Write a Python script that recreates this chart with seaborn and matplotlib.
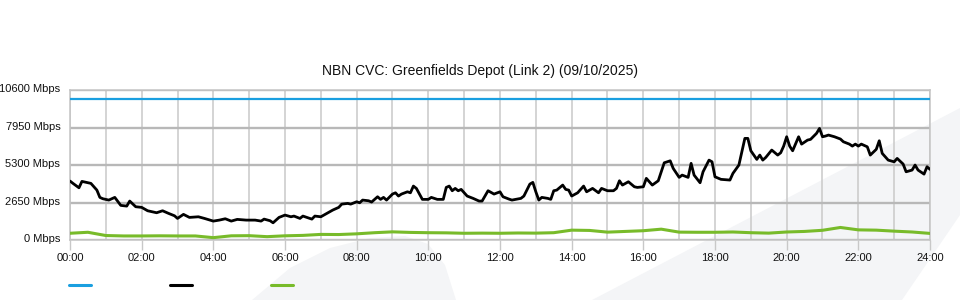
import matplotlib
matplotlib.use("Agg")
import matplotlib.pyplot as plt
import matplotlib.transforms as mtransforms
import seaborn as sns
import pandas as pd
from matplotlib.patches import Polygon
from matplotlib.lines import Line2D
from matplotlib.ticker import MultipleLocator

# ---------------- data ----------------
title = "NBN CVC: Greenfields Depot (Link 2) (09/10/2025)"
y_ticks = [0, 2650, 5300, 7950, 10600]
y_labels = [f"{v} Mbps" for v in y_ticks]
x_tick_hours = list(range(0, 25, 2))
x_labels = [f"{h:02d}:00" for h in x_tick_hours]

cap_times = ["00:00", "24:00"]
cap_mbps = [10000, 10000]

used_times = [
    "00:00", "00:05", "00:15", "00:20", "00:30", "00:35", "00:45", "00:50", "00:55",
    "01:05", "01:15", "01:25", "01:35", "01:40", "01:50", "02:00", "02:10", "02:15",
    "02:25", "02:35", "02:45", "02:55", "03:00", "03:10", "03:20", "03:35", "03:45",
    "04:00", "04:10", "04:20", "04:30", "04:40", "04:55", "05:10", "05:20", "05:25",
    "05:35", "05:40", "05:50", "06:00", "06:10", "06:15", "06:25", "06:30", "06:45",
    "06:50", "07:00", "07:10", "07:20", "07:30", "07:35", "07:45", "07:50", "08:00",
    "08:05", "08:10", "08:20", "08:25", "08:35", "08:40", "08:45", "08:50", "09:00",
    "09:05", "09:10", "09:15", "09:25", "09:30", "09:35", "09:40", "09:50", "10:00",
    "10:05", "10:15", "10:25", "10:30", "10:35", "10:40", "10:45", "10:50", "10:55",
    "11:05", "11:15", "11:25", "11:30", "11:40", "11:50", "12:00", "12:05", "12:15",
    "12:20", "12:35", "12:40", "12:50", "12:55", "13:00", "13:05", "13:10", "13:20",
    "13:25", "13:30", "13:35", "13:45", "13:50", "13:55", "14:00", "14:10", "14:20",
    "14:25", "14:35", "14:45", "14:50", "15:00", "15:10", "15:15", "15:20", "15:25",
    "15:35", "15:45", "15:50", "16:00", "16:05", "16:15", "16:25", "16:30", "16:35",
    "16:45", "16:50", "17:00", "17:05", "17:15", "17:20", "17:25", "17:35", "17:40",
    "17:50", "17:55", "18:00", "18:10", "18:25", "18:30", "18:40", "18:45", "18:50",
    "18:55", "19:00", "19:05", "19:10", "19:15", "19:20", "19:25", "19:35", "19:45",
    "19:50", "19:55", "20:00", "20:05", "20:10", "20:20", "20:25", "20:35", "20:40",
    "20:50", "20:55", "21:00", "21:05", "21:10", "21:20", "21:30", "21:35", "21:45",
    "21:50", "21:55", "22:00", "22:05", "22:15", "22:20", "22:30", "22:35", "22:40",
    "22:50", "23:00", "23:05", "23:15", "23:20", "23:30", "23:35", "23:40", "23:50",
    "23:55", "24:00",
]
used_mbps = [
    4180, 4015, 3705, 4155, 4060, 4015, 3540, 3025, 2930,
    2835, 3025, 2460, 2410, 2765, 2365, 2320, 2080, 2035,
    1940, 2080, 1895, 1725, 1540, 1825, 1610, 1655, 1540,
    1350, 1420, 1515, 1350, 1470, 1420, 1420, 1350, 1490,
    1375, 1230, 1610, 1775, 1655, 1705, 1540, 1705, 1490,
    1705, 1655, 1895, 2130, 2320, 2550, 2600, 2550, 2715,
    2645, 2835, 2785, 2695, 3070, 2885, 3025, 2835, 3260,
    3350, 3120, 3260, 3420, 3350, 3825, 3660, 2885, 2885,
    3025, 2885, 2885, 3730, 3825, 3495, 3660, 3495, 3590,
    3120, 2955, 2765, 2765, 3495, 3260, 3420, 3070, 2905,
    2835, 2955, 3120, 3965, 4085, 3420, 2835, 3025, 2955,
    2885, 3495, 3540, 3895, 3590, 3540, 3120, 3350, 3825,
    3420, 3660, 3350, 3660, 3495, 3495, 3660, 4200, 3895,
    4130, 3775, 3730, 3775, 4370, 3895, 4200, 4835, 5470,
    5610, 5075, 4440, 4600, 4440, 5430, 4600, 4060, 4835,
    5660, 5540, 4480, 4300, 4250, 4720, 5310, 6250, 7195,
    7195, 6320, 6015, 5710, 6015, 5660, 5850, 6370, 6015,
    6180, 6650, 7310, 6650, 6320, 7310, 6790, 7075, 7125,
    7550, 7900, 7310, 7360, 7430, 7310, 7150, 6955, 6790,
    6650, 6790, 6650, 6790, 6600, 6015, 6420, 7025, 6135,
    5660, 5540, 5780, 5380, 4835, 4955, 5310, 4955, 4670,
    5190, 5005,
]

green_times = [
    "00:00", "00:30", "01:00", "01:30", "02:00", "02:30", "03:00", "03:30",
    "04:00", "04:30", "05:00", "05:30", "06:00", "06:30", "07:00", "07:30",
    "08:00", "08:30", "09:00", "09:30", "10:00", "10:30", "11:00", "11:30",
    "12:00", "12:30", "13:00", "13:30", "14:00", "14:30", "15:00", "15:30",
    "16:00", "16:30", "17:00", "17:30", "18:00", "18:30", "19:00", "19:30",
    "20:00", "20:30", "21:00", "21:30", "22:00", "22:30", "23:00", "23:30",
    "24:00",
]
green_mbps = [
    490, 560, 330, 300, 300, 310, 300, 300,
    180, 310, 320, 250, 310, 340, 410, 400,
    450, 530, 590, 550, 530, 520, 490, 500,
    490, 510, 500, 530, 710, 690, 570, 620,
    670, 780, 570, 560, 560, 580, 530, 500,
    580, 620, 700, 900, 730, 710, 640, 580,
    480,
]

colors = {"cap": "#1a9fe0", "used": "#000000", "green": "#78bb2a"}


def to_hours(t):
    h, m = t.split(":")
    return int(h) + int(m) / 60.0


df_cap = pd.DataFrame({"hour": [to_hours(t) for t in cap_times], "mbps": cap_mbps})
df_used = pd.DataFrame({"hour": [to_hours(t) for t in used_times], "mbps": used_mbps})
df_green = pd.DataFrame({"hour": [to_hours(t) for t in green_times], "mbps": green_mbps})

# ---------------- figure ----------------
sns.set_theme(style="white")
plt.rcParams["font.family"] = ["Liberation Sans", "DejaVu Sans"]

W, H = 960, 300
fig = plt.figure(figsize=(W / 100, H / 100), dpi=100)


def fpt(x, y):
    return (x / W, 1 - y / H)


# background watermark shapes
wm = "#f4f5f7"
leaf = [(252, 300), (290, 268), (330, 248), (370, 238), (405, 236), (428, 244),
        (445, 265), (456, 300)]
band = [(592, 300), (960, 108), (960, 215), (902, 300)]
for pts in (leaf, band):
    fig.add_artist(Polygon([fpt(*p) for p in pts], closed=True, facecolor=wm,
                           edgecolor="none", zorder=0, transform=fig.transFigure))

ax = fig.add_axes([70 / W, 1 - 240.2 / H, 860 / W, 150 / H])
ax.patch.set_alpha(0)

sns.lineplot(data=df_cap, x="hour", y="mbps", ax=ax, color=colors["cap"], lw=1.6, zorder=3)
sns.lineplot(data=df_green, x="hour", y="mbps", ax=ax, color=colors["green"], lw=2.2, zorder=3)
sns.lineplot(data=df_used, x="hour", y="mbps", ax=ax, color=colors["used"], lw=2.0, zorder=4)

ax.set_xlim(0, 24)
ax.set_ylim(0, 10600)
ax.set_xlabel("")
ax.set_ylabel("")

ax.set_xticks(x_tick_hours)
ax.set_xticklabels(x_labels, fontsize=8, color="#111111")
ax.xaxis.set_minor_locator(MultipleLocator(1))
ax.set_yticks(y_ticks)
ax.set_yticklabels(y_labels, fontsize=8, color="#111111")

ax.tick_params(axis="x", which="major", bottom=True, length=7, width=1, color="#c8c8c8", pad=2)
ax.tick_params(axis="x", which="minor", bottom=False, length=0)
ax.tick_params(axis="y", which="both", left=False, length=0, pad=7)

# y labels sit ~2px above their grid lines in the reference
shift = mtransforms.ScaledTranslation(0, 2 / 100, fig.dpi_scale_trans)
for lab in ax.get_yticklabels():
    lab.set_transform(lab.get_transform() + shift)

ax.grid(False)
ax.grid(True, axis="x", which="both", color="#c9c9c9", lw=1.1, zorder=1)
ax.grid(True, axis="y", which="major", color="#b8b8b8", lw=1.7, zorder=1)

for s in ax.spines.values():
    s.set_color("#c4c4c4")
    s.set_linewidth(1.1)

fig.text(0.5, 1 - 71 / H, title, ha="center", va="center", fontsize=10, color="#111111")

# legend swatches (no labels)
for (x0, x1), c in zip([(69, 91), (170, 192), (271, 293)],
                       [colors["cap"], colors["used"], colors["green"]]):
    fig.add_artist(Line2D([x0 / W, x1 / W], [1 - 285 / H] * 2, color=c, lw=2.2,
                          transform=fig.transFigure))

fig.savefig("out.png", dpi=100)
